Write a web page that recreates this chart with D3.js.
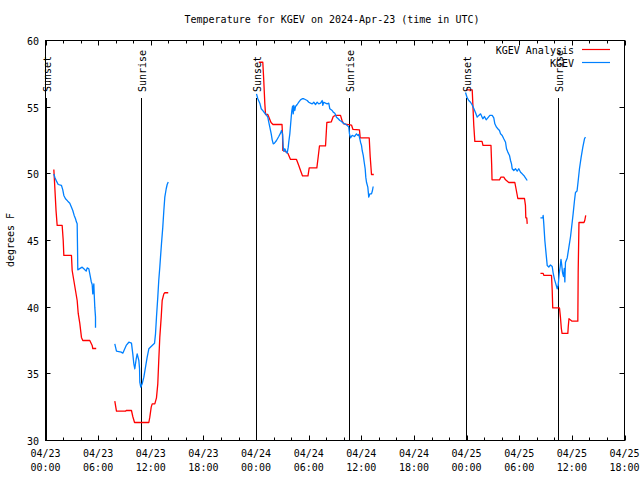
<!DOCTYPE html>
<html><head><meta charset="utf-8">
<script src="https://cdn.jsdelivr.net/npm/d3@7"></script>
<style>
body{margin:0;background:#fff}
svg text{font-family:"DejaVu Sans Mono",monospace;font-size:10px;fill:#000}
</style>
</head><body><svg id="c" width="640" height="480"></svg>
<script>
// hours after 2024-04-23 00:00 UTC, temperature in degrees F; null = gap
const kgevAnalysis = [
[0.95,50.33],[1.08,48.75],[1.2,47.25],[1.33,46.13],[1.9,46.13],[2.02,45.0],[2.09,43.88],[2.96,43.88],[3.04,42.75],[3.23,42.0],[3.42,41.25],[3.61,40.5],[3.73,39.53],[3.91,38.78],[4.1,37.73],[4.25,37.5],[5.05,37.5],[5.32,37.13],[5.39,36.9],[5.78,36.9],
null,
[7.9,32.95],[8.09,32.2],[9.12,32.2],[9.2,32.25],[9.8,32.25],[9.95,31.8],[10.15,31.35],[11.78,31.35],[11.89,31.75],[12.05,32.5],[12.16,32.75],[12.46,32.75],[12.65,33.2],[12.8,34.25],[12.91,36.0],[13.03,37.75],[13.19,39.25],[13.3,40.5],[13.49,41.0],[13.6,41.08],[13.99,41.08],
null,
[24.31,58.37],[24.77,58.37],[24.88,57.0],[25.0,55.28],[25.08,54.45],[25.34,54.45],[25.71,53.85],[25.93,53.7],[26.96,53.7],[27.02,52.88],[27.05,51.75],[27.36,51.68],[27.64,51.53],[27.93,51.08],[28.61,51.08],[28.87,50.63],[29.07,50.25],[29.3,49.84],[29.92,49.84],[30.06,50.45],[30.93,50.45],[31.09,51.3],[31.23,52.09],[31.92,52.09],[32.07,53.85],[32.57,53.89],[32.8,54.3],[33.06,54.38],[33.63,54.38],[33.8,54.0],[34.0,53.74],[34.88,53.66],[35.05,53.33],[35.79,53.3],[35.87,52.7],[36.9,52.7],[37.01,51.3],[37.16,49.95],[37.42,49.95],
null,
[47.99,56.3],[48.64,56.3],[48.71,55.28],[48.82,53.63],[48.94,52.43],[49.76,52.43],[49.87,52.13],[50.78,52.13],[50.86,50.63],[50.9,49.55],[51.75,49.55],[51.92,49.76],[52.24,49.76],[52.44,49.55],[52.81,49.35],[53.5,49.35],[53.63,48.9],[53.84,48.15],[54.6,48.15],[54.71,47.63],[54.75,46.7],[54.86,46.7],[54.91,46.25],
null,
[56.42,42.53],[56.73,42.53],[56.8,42.38],[57.68,42.38],[57.76,41.25],[57.82,39.94],[58.59,39.94],[58.7,39.23],[58.8,38.4],[58.88,38.03],[59.54,38.03],[59.59,38.55],[59.67,39.13],[59.85,39.04],[60.02,38.95],[60.68,38.95],[60.72,42.62],[60.81,46.35],[61.38,46.35],[61.47,46.5],[61.58,46.88]
];

const kgevObs = [
[0.95,50.0],[1.06,49.75],[1.25,49.45],[1.45,49.2],[1.82,49.13],[1.97,48.8],[2.09,48.38],[2.28,48.13],[2.54,47.95],[2.77,47.8],[2.96,47.5],[3.11,47.25],[3.27,46.88],[3.42,46.63],[3.53,46.38],[3.61,46.25],[3.65,44.5],[3.68,42.8],[3.99,42.93],[4.18,43.0],[4.37,42.88],[4.64,42.7],[4.75,42.95],[4.94,42.88],[5.05,42.5],[5.21,41.93],[5.32,41.7],[5.39,41.0],[5.51,41.75],[5.55,41.0],[5.62,40.0],[5.7,39.25],[5.7,38.45],
null,
[7.9,37.25],[8.09,36.7],[8.63,36.63],[8.81,36.55],[9.2,37.13],[9.5,37.37],[9.8,37.3],[9.95,36.5],[10.07,35.75],[10.18,35.38],[10.34,36.13],[10.45,36.5],[10.64,36.0],[10.72,35.38],[10.75,34.37],[10.86,34.0],[11.02,34.25],[11.21,34.75],[11.4,35.5],[11.59,36.25],[11.78,36.88],[12.16,37.13],[12.43,37.3],[12.54,38.0],[12.65,39.25],[12.8,40.75],[12.91,42.0],[13.03,43.0],[13.11,43.75],[13.22,44.75],[13.37,46.0],[13.49,47.25],[13.6,48.25],[13.76,48.88],[13.87,49.2],[13.99,49.38],
null,
[24.05,56.0],[24.2,55.63],[24.43,55.3],[24.59,54.88],[24.82,54.7],[24.96,54.58],[25.16,54.43],[25.34,54.25],[25.45,53.87],[25.57,53.5],[25.73,53.0],[25.84,52.55],[25.96,52.25],[26.1,52.3],[26.33,52.5],[26.59,52.8],[26.79,53.05],[26.9,53.25],[27.02,53.0],[27.1,52.0],[27.16,51.7],[27.28,51.88],[27.44,51.63],[27.55,51.55],[27.67,52.0],[27.73,52.38],[27.85,53.0],[27.93,53.63],[28.01,54.25],[28.08,54.75],[28.16,55.07],[28.24,54.5],[28.3,55.13],[28.42,54.75],[28.5,55.05],[28.69,55.2],[28.87,55.37],[29.07,55.55],[29.26,55.63],[29.44,55.63],[29.83,55.5],[30.01,55.37],[30.21,55.3],[30.4,55.25],[30.58,55.37],[30.78,55.2],[30.97,55.37],[31.15,55.25],[31.35,55.3],[31.54,55.5],[31.61,55.13],[31.72,55.37],[31.92,55.3],[32.11,55.25],[32.29,55.3],[32.41,54.88],[32.68,54.75],[32.8,54.63],[32.98,54.55],[33.17,54.25],[33.37,54.13],[33.55,54.0],[33.74,53.93],[33.93,53.8],[34.12,53.75],[34.39,53.63],[34.57,53.5],[34.65,53.0],[34.77,52.7],[34.96,52.88],[35.22,52.8],[35.45,53.0],[35.6,52.88],[35.71,52.95],[35.83,52.63],[35.91,52.37],[36.02,52.13],[36.1,51.75],[36.22,51.38],[36.33,50.87],[36.44,50.38],[36.51,49.75],[36.59,49.37],[36.74,49.0],[36.85,48.25],[36.97,48.5],[37.16,48.5],[37.27,48.75],[37.35,49.05],
null,
[47.88,56.1],[48.07,55.69],[48.25,55.5],[48.45,55.37],[48.64,55.16],[48.82,54.9],[49.01,54.6],[49.21,54.25],[49.39,54.38],[49.59,54.5],[49.85,54.13],[50.04,54.3],[50.23,54.05],[50.42,54.2],[50.65,54.38],[50.92,54.38],[51.1,54.2],[51.22,53.75],[51.41,53.5],[51.56,53.38],[51.75,53.25],[51.87,53.0],[52.06,52.88],[52.24,52.63],[52.44,52.37],[52.55,51.88],[52.7,51.63],[52.89,51.38],[53.01,51.0],[53.12,50.75],[53.2,50.38],[53.38,50.25],[53.58,50.38],[53.77,50.2],[53.95,50.38],[54.15,50.12],[54.34,50.0],[54.52,49.88],[54.71,49.7],[54.91,49.5],
null,
[56.42,46.7],[56.69,46.7],[56.73,46.88],[56.8,46.25],[56.92,45.0],[57.08,43.88],[57.19,43.13],[57.37,43.01],[57.56,43.16],[57.76,43.05],[57.87,42.56],[58.02,42.08],[58.17,41.75],[58.33,41.38],[58.44,41.63],[58.56,42.53],[58.67,43.05],[58.76,43.58],[58.85,43.13],[58.93,42.6],[59.05,42.3],[59.13,42.9],[59.2,41.89],[59.27,43.35],[59.47,43.69],[59.65,44.44],[59.85,45.3],[60.04,46.39],[60.15,47.03],[60.3,48.0],[60.41,48.6],[60.59,48.71],[60.7,49.35],[60.87,50.4],[61.06,51.25],[61.25,52.0],[61.44,52.63],[61.55,52.75]
];

const sunsetHours = [0.1, 24.05, 47.92];
const sunriseHours = [10.86, 34.57, 58.39];
const yTickValues = [30, 35, 40, 45, 50, 55, 60];
const seriesNames = ["KGEV Analysis", "KGEV"];
const seriesColors = ["#ff0000", "#0080ff"];
const titleText = "Temperature for KGEV on 2024-Apr-23 (time in UTC)";
const yLabel = "degrees F";

const t0 = Date.UTC(2024, 3, 23, 0, 0);
const toDate = h => new Date(t0 + h * 3600e3);

const L = 45.5, R = 624.5, T = 40.5, B = 440.5;
const svg = d3.select("#c");
const x = d3.scaleUtc().domain([new Date(t0), toDate(66)]).range([L, R]);
const y = d3.scaleLinear().domain([30, 60]).range([B, T]);

svg.append("text").attr("x", 332).attr("y", 23).attr("text-anchor", "middle").text(titleText);
svg.append("text").attr("transform", "translate(14,240) rotate(-90)").attr("text-anchor", "middle").text(yLabel);

const g = svg.append("g");
const major = d3.utcHour.every(6).range(new Date(t0), toDate(66.01));
const minor = d3.utcHour.every(2).range(new Date(t0), toDate(66.01));
const tk = g.append("g").attr("stroke", "#000").attr("stroke-width", 1);
minor.forEach(d => {
  const px = Math.round(x(d)) + 0.5;
  const len = (d.getUTCHours() % 6 === 0) ? 5 : 3;
  tk.append("line").attr("x1", px).attr("x2", px).attr("y1", B).attr("y2", B - len);
  tk.append("line").attr("x1", px).attr("x2", px).attr("y1", T).attr("y2", T + len);
});
yTickValues.forEach(v => {
  const py = Math.round(y(v) - 0.5) + 0.5;
  tk.append("line").attr("x1", L).attr("x2", L + 5).attr("y1", py).attr("y2", py);
  tk.append("line").attr("x1", R).attr("x2", R - 5).attr("y1", py).attr("y2", py);
  svg.append("text").attr("x", 39).attr("y", py + 4).attr("text-anchor", "end").text(v);
});
const fmtD = d3.utcFormat("%m/%d"), fmtH = d3.utcFormat("%H:%M");
major.forEach(d => {
  const px = x(d);
  svg.append("text").attr("x", px).attr("y", 457).attr("text-anchor", "middle").text(fmtD(d));
  svg.append("text").attr("x", px).attr("y", 471).attr("text-anchor", "middle").text(fmtH(d));
});

const marks = sunsetHours.map(h => ({h, lab: "Sunset"})).concat(sunriseHours.map(h => ({h, lab: "Sunrise"})));
marks.forEach(m => {
  const px = Math.round(x(toDate(m.h))) + 0.5;
  g.append("line").attr("x1", px).attr("x2", px).attr("y1", 98).attr("y2", B).attr("stroke", "#000");
  svg.append("text").attr("transform", `translate(${px + 4},92) rotate(-90)`).attr("text-anchor", "start").text(m.lab);
});

const line = d3.line().defined(d => d !== null).x(d => x(toDate(d[0]))).y(d => y(d[1]));
[kgevAnalysis, kgevObs].forEach((s, i) => {
  g.append("path").attr("d", line(s)).attr("fill", "none").attr("stroke", seriesColors[i])
    .attr("stroke-width", 1.3).attr("stroke-linejoin", "round");
});

g.append("rect").attr("x", L).attr("y", T).attr("width", R - L).attr("height", B - T).attr("fill", "none").attr("stroke", "#000");

seriesNames.forEach((n, i) => {
  const ly = 49.5 + i * 13;
  svg.append("text").attr("x", 574).attr("y", ly + 4).attr("text-anchor", "end").text(n);
  svg.append("line").attr("x1", 582).attr("x2", 610).attr("y1", ly).attr("y2", ly).attr("stroke", seriesColors[i]).attr("stroke-width", 1.2);
});
</script></body></html>
